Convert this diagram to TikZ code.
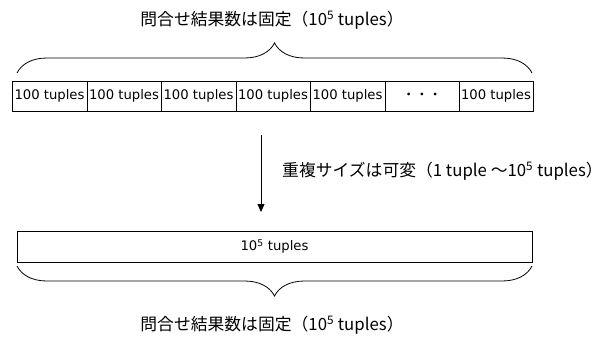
\documentclass[tikz,border=0pt]{standalone}
\usepackage{fontspec}
\setmainfont{DejaVu Sans}
\newfontfamily\jp{Noto Sans CJK JP}
\usetikzlibrary{decorations.pathreplacing,arrows.meta}
\begin{document}
\begin{tikzpicture}[x=1pt,y=1pt,
  cell/.style={draw=black,line width=0.8pt,minimum height=30pt,inner sep=0pt,
    font=\fontsize{13.2}{15}\selectfont},
  lbl/.style={inner sep=0pt,font=\fontsize{16.8}{19}\selectfont},
  bracepath/.style={decorate,decoration={brace,amplitude=30pt},line width=0.8pt}]
\useasboundingbox (0,0) rectangle (602,338);
% top row of cells
\foreach \n/\a/\b in {1/12/87,2/87/161,3/161/236,4/236/310,5/310/385,6/385/459,7/459/533}{
  \pgfmathsetmacro\w{\b-\a}
  \pgfmathsetmacro\c{(\a+\b)/2}
  \node[cell,minimum width=\w pt] (b\n) at (\c,242) {\ifnum\n=6 \jp{・・・}\else 100 tuples\fi};
}
% top label and brace
\node[lbl] (toplbl) at (272,318) {\jp{問合せ結果数は固定（}10\textsuperscript{5} tuples\jp{）}};
\coordinate (tbL) at (17,265);
\coordinate (tbR) at (532,265);
\draw[bracepath] (tbL) -- (tbR);
% arrow
\coordinate (arA) at (261,203);
\coordinate (arB) at (261,126);
\draw[line width=0.8pt,-{Triangle[width=7pt,length=8pt]}] (arA) -- (arB);
\node[lbl,anchor=west] (arlbl) at (282,167) {\jp{重複サイズは可変（}1 tuple \jp{～}10\textsuperscript{5} tuples\jp{）}};
% bottom box
\node[cell,minimum width=515pt,minimum height=31pt] (big) at (274.5,91.5) {10\textsuperscript{5} tuples};
\coordinate (bbR) at (532,72);
\coordinate (bbL) at (17,72);
\draw[bracepath] (bbR) -- (bbL);
\node[lbl] (botlbl) at (272,13) {\jp{問合せ結果数は固定（}10\textsuperscript{5} tuples\jp{）}};
\end{tikzpicture}
\end{document}
